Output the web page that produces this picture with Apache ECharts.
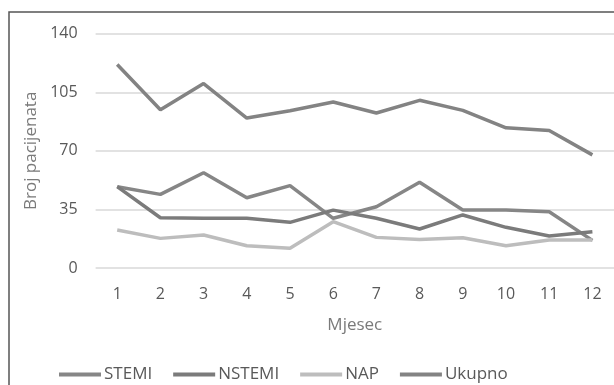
<!DOCTYPE html>
<html><head><meta charset="utf-8">
<script src="https://cdn.jsdelivr.net/npm/echarts@6/dist/echarts.min.js"></script>
<style>html,body{margin:0;padding:0;background:#fff}#c{width:614px;height:385px}</style>
</head><body><div id="c"></div>
<script>
const months = ['1','2','3','4','5','6','7','8','9','10','11','12'];
const yTicks = [0, 35, 70, 105, 140];
const stemi = [48.6, 44, 56.9, 42, 49.2, 29.7, 36.6, 51.2, 34.6, 34.6, 33.6, 16.5];
const nstemi = [48.6, 30, 29.7, 29.7, 27.3, 34.6, 29.7, 23.3, 31.7, 24.3, 19.1, 21.7];
const nap = [22.7, 17.7, 19.7, 13.3, 11.8, 27.7, 18.3, 17.1, 18.1, 13.3, 16.7, 16.7];
const ukupno = [121.6, 94.6, 110.2, 89.6, 94.0, 99.2, 92.6, 100.2, 94.2, 83.8, 82.2, 67.6];
const seriesNames = ['STEMI', 'NSTEMI', 'NAP', 'Ukupno'];
const colors = ['#868686', '#7b7b7b', '#bdbdbd', '#838383'];

const chart = echarts.init(document.getElementById('c'), null, {renderer: 'canvas'});
const FONT = 'Open Sans';
function mk(name, data, i) {
  return {name, type: 'line', data, symbol: 'none', smooth: false,
    lineStyle: {width: 3.5, color: colors[i]}, itemStyle: {color: colors[i]}};
}
chart.setOption({
  animation: false,
  graphic: [{type: 'rect', shape: {x: 9, y: 12, width: 700, height: 500},
    style: {fill: 'none', stroke: '#555555', lineWidth: 1.5}, silent: true}],
  grid: {left: 95.6, top: 33.7, width: 521.5, height: 234.3},
  legend: {left: 59, top: 366, padding: 0, itemWidth: 42, itemHeight: 4, itemGap: 21, icon: 'rect',
    textStyle: {fontFamily: FONT, fontSize: 17, color: '#595959', padding: [0, 0, 0, -2]},
    data: seriesNames},
  xAxis: {type: 'category', data: months, boundaryGap: true,
    axisLine: {show: false}, axisTick: {show: false},
    axisLabel: {fontFamily: FONT, fontSize: 16, color: '#595959', margin: 18},
    name: 'Mjesec', nameLocation: 'middle', nameGap: 49,
    nameTextStyle: {fontFamily: FONT, fontSize: 17, color: '#7a7a7a'}},
  yAxis: {type: 'value', min: 0, max: 140, interval: 35,
    axisLine: {show: false}, axisTick: {show: false},
    splitLine: {lineStyle: {color: '#d9d9d9', width: 1.5}},
    axisLabel: {fontFamily: FONT, fontSize: 16, color: '#595959', margin: 18,
      formatter: v => yTicks.includes(v) ? String(v) : ''},
    name: 'Broj pacijenata', nameLocation: 'middle', nameGap: 56, nameRotate: 90,
    nameTextStyle: {fontFamily: FONT, fontSize: 17, color: '#7a7a7a'}},
  series: [mk('STEMI', stemi, 0), mk('NSTEMI', nstemi, 1), mk('NAP', nap, 2), mk('Ukupno', ukupno, 3)]
});
</script></body></html>
